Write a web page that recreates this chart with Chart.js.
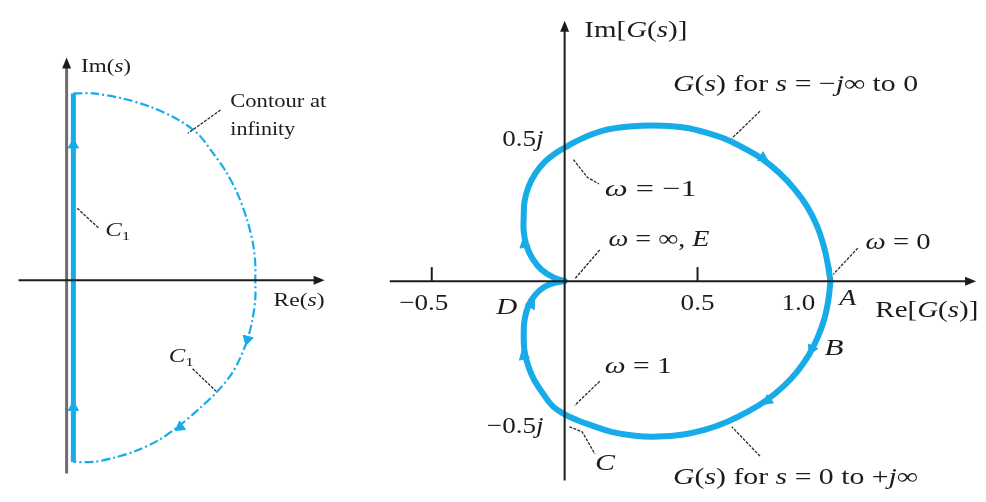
<!DOCTYPE html>
<html>
<head>
<meta charset="utf-8">
<script src="https://cdn.jsdelivr.net/npm/chart.js@4.4.1/dist/chart.umd.min.js"></script>
<style>
  html, body { margin: 0; padding: 0; background: #fff; }
  .panel { position: absolute; top: 0; }
  #sPanel { left: 0; width: 370px; height: 502px; }
  #gPanel { left: 370px; width: 616px; height: 502px; }
</style>
</head>
<body>
<div class="panel" id="sPanel"><canvas id="sPlane" width="370" height="502"></canvas></div>
<div class="panel" id="gPanel"><canvas id="gPlane" width="616" height="502"></canvas></div>
<script>
const BLUE = '#17abe8';
const INK = '#1c1c1c';
const SERIF = '"Liberation Serif", "DejaVu Serif", serif';
const STRETCH = 1.18;

// s-plane: contour C1 up the jw axis, then round the right half-plane
const c1Re = [0.037, 0.037];
const c1Im = [-0.984, 1.011];
const arcRe = [0.037, 0.147, 0.305, 0.463, 0.611, 0.716, 0.800, 0.874, 0.937, 0.989, 1.021, 1.032, 1.032,
               1.032, 1.016, 0.989, 0.947, 0.900, 0.816, 0.726, 0.621, 0.500, 0.374, 0.253, 0.147, 0.037];
const arcIm = [1.011, 1.011, 0.984, 0.937, 0.868, 0.795, 0.689, 0.584, 0.463, 0.321, 0.189, 0.084, 0,
               -0.100, -0.216, -0.321, -0.426, -0.511, -0.611, -0.695, -0.784, -0.868, -0.926, -0.963, -0.984, -0.984];
const sArrowRe = [0.037, 0.037, 0.989, 0.621];
const sArrowIm = [0.732, -0.689, -0.321, -0.795];

// G(s)-plane: s = -j inf .. 0 (upper) and s = 0 .. +j inf (lower)
const upperRe = [0, -0.044, -0.088, -0.121, -0.143, -0.154, -0.154, -0.151, -0.136, -0.110, -0.074, -0.033,
                 0.011, 0.066, 0.132, 0.206, 0.287, 0.368, 0.449, 0.529, 0.607, 0.680, 0.746, 0.809,
                 0.864, 0.912, 0.949, 0.974, 0.989, 1.0];
const upperIm = [0, 0.015, 0.044, 0.085, 0.132, 0.188, 0.246, 0.301, 0.357, 0.408, 0.452, 0.485,
                 0.511, 0.540, 0.566, 0.581, 0.588, 0.588, 0.581, 0.563, 0.537, 0.500, 0.460, 0.408,
                 0.349, 0.283, 0.210, 0.136, 0.070, 0];
const lowerRe = [1.0, 0.993, 0.978, 0.952, 0.919, 0.875, 0.824, 0.761, 0.691, 0.610, 0.526, 0.441,
                 0.353, 0.265, 0.176, 0.096, 0.048, 0, -0.044, -0.081, -0.114, -0.136, -0.151, -0.154,
                 -0.151, -0.136, -0.110, -0.077, -0.040, 0];
const lowerIm = [0, -0.066, -0.140, -0.213, -0.279, -0.342, -0.397, -0.449, -0.493, -0.533, -0.563, -0.581,
                 -0.588, -0.585, -0.570, -0.544, -0.526, -0.504, -0.474, -0.426, -0.375, -0.324, -0.265, -0.206,
                 -0.147, -0.092, -0.051, -0.022, -0.007, 0];
const gArrowRe = [-0.151, 0.746, 0.930, 0.765, -0.125, -0.154];
const gArrowIm = [0.140, 0.467, -0.257, -0.452, -0.088, -0.283];

const reTicks = [-0.5, 0.5, 1.0];
const reTickLabels = ['−0.5', '0.5', '1.0'];
const imTicks = [0.5, -0.5];
const imTickLabels = ['0.5*j*', '−0.5*j*'];

const zip = (xs, ys) => xs.map((x, i) => ({ x, y: ys[i] }));

// heading (deg, clockwise from up) of the path segment nearest to p
function headingAt(path, p) {
  let best = Infinity, ang = 0;
  for (let i = 0; i < path.length - 1; i++) {
    const a = path[i], b = path[i + 1];
    const dx = b.x - a.x, dy = b.y - a.y;
    const len2 = dx * dx + dy * dy || 1e-9;
    const t = Math.max(0, Math.min(1, ((p.x - a.x) * dx + (p.y - a.y) * dy) / len2));
    const ex = a.x + t * dx - p.x, ey = a.y + t * dy - p.y;
    const d = ex * ex + ey * ey;
    if (d < best) { best = d; ang = Math.atan2(dx, dy) * 180 / Math.PI; }
  }
  return ang;
}

// '*' toggles italic, '_x' puts x in subscript
function parseRich(spec) {
  const out = [];
  let italic = false, buf = '';
  for (let i = 0; i < spec.length; i++) {
    const ch = spec[i];
    if (ch === '*') { if (buf) out.push({ t: buf, italic }); buf = ''; italic = !italic; }
    else if (ch === '_') { if (buf) out.push({ t: buf, italic }); buf = ''; out.push({ t: spec[++i], italic: false, sub: true }); }
    else buf += ch;
  }
  if (buf) out.push({ t: buf, italic });
  return out;
}

function drawRich(ctx, spec, x, y, size, align, width) {
  const parts = parseRich(spec);
  const fontOf = p => `${p.italic ? 'italic ' : ''}${p.sub ? Math.round(size * 0.68) : size}px ${SERIF}`;
  let w = 0;
  parts.forEach(p => { ctx.font = fontOf(p); p.w = ctx.measureText(p.t).width; w += p.w; });
  const sx = width ? width / w : STRETCH;
  const full = w * sx;
  ctx.save();
  ctx.translate(align === 'right' ? x - full : align === 'center' ? x - full / 2 : x, y);
  ctx.scale(sx, 1);
  ctx.textBaseline = 'middle';
  ctx.textAlign = 'left';
  ctx.fillStyle = INK;
  let cx = 0;
  parts.forEach(p => { ctx.font = fontOf(p); ctx.fillText(p.t, cx, p.sub ? size * 0.3 : 0); cx += p.w; });
  ctx.restore();
}

function arrowHead(ctx, x, y, dir, color) {
  const L = 11, H = 4.5;
  ctx.fillStyle = color;
  ctx.beginPath();
  if (dir === 'right') { ctx.moveTo(x, y); ctx.lineTo(x - L, y - H); ctx.lineTo(x - L, y + H); }
  else { ctx.moveTo(x, y); ctx.lineTo(x - H, y + L); ctx.lineTo(x + H, y + L); }
  ctx.closePath();
  ctx.fill();
}

const planeAxes = {
  id: 'planeAxes',
  beforeDatasetsDraw(chart, args, o) {
    const ctx = chart.ctx, X = v => chart.scales.x.getPixelForValue(v), Y = v => chart.scales.y.getPixelForValue(v);
    ctx.save();
    ctx.strokeStyle = INK;
    ctx.lineWidth = 2;
    (o.reTicks || []).forEach(v => {
      ctx.beginPath(); ctx.moveTo(X(v), Y(0)); ctx.lineTo(X(v), Y(0) - 14); ctx.stroke();
    });
    ctx.restore();
  },
  afterDatasetsDraw(chart, args, o) {
    const ctx = chart.ctx, X = v => chart.scales.x.getPixelForValue(v), Y = v => chart.scales.y.getPixelForValue(v);
    ctx.save();
    // imaginary axis
    ctx.strokeStyle = o.imColor; ctx.lineWidth = o.imWidth;
    ctx.beginPath(); ctx.moveTo(X(0), Y(o.imRange[0])); ctx.lineTo(X(0), Y(o.imRange[1]) + 8); ctx.stroke();
    arrowHead(ctx, X(0), Y(o.imRange[1]), 'up', INK);
    // real axis
    ctx.strokeStyle = INK; ctx.lineWidth = 2;
    ctx.beginPath(); ctx.moveTo(X(o.reRange[0]), Y(0)); ctx.lineTo(X(o.reRange[1]) - 8, Y(0)); ctx.stroke();
    arrowHead(ctx, X(o.reRange[1]), Y(0), 'right', INK);

    // leader lines
    ctx.strokeStyle = '#2a2a2a'; ctx.lineWidth = 1.3; ctx.setLineDash([3, 1.3]);
    o.leaders.forEach(pts => {
      ctx.beginPath();
      pts.forEach(([x, y], i) => i ? ctx.lineTo(X(x), Y(y)) : ctx.moveTo(X(x), Y(y)));
      ctx.stroke();
    });
    ctx.setLineDash([]);

    // tick labels
    (o.reTicks || []).forEach((v, i) => drawRich(ctx, o.reTickLabels[i], X(v) + o.reLabelShift[i], Y(0) + 23, o.size, 'center'));
    (o.imTicks || []).forEach((v, i) => drawRich(ctx, o.imTickLabels[i], X(0) - 21, Y(v) + (v > 0 ? -9 : 14), o.size, 'right'));

    // notes
    o.notes.forEach(n => drawRich(ctx, n.text, X(n.x), Y(n.y), o.size, 'left', n.w));
    ctx.restore();
  }
};

function baseOptions(xr, yr, axes) {
  return {
    responsive: false,
    animation: false,
    events: [],
    layout: { padding: 0 },
    scales: {
      x: { type: 'linear', display: false, min: xr[0], max: xr[1] },
      y: { type: 'linear', display: false, min: yr[0], max: yr[1] }
    },
    plugins: { legend: { display: false }, tooltip: { enabled: false }, planeAxes: axes }
  };
}

// ---- left: s-plane contour
const contourPath = zip(c1Re, c1Im).concat(zip(arcRe, arcIm));
const sArrows = zip(sArrowRe, sArrowIm);
new Chart(document.getElementById('sPlane'), {
  type: 'scatter',
  data: {
    datasets: [
      { data: zip(c1Re, c1Im), showLine: true, borderColor: BLUE, borderWidth: 5, pointRadius: 0 },
      { data: zip(arcRe, arcIm), showLine: true, borderColor: BLUE, borderWidth: 2.2, borderDash: [9, 3, 2, 3],
        tension: 0.3, pointRadius: 0 },
      { data: sArrows, showLine: false, pointStyle: 'triangle', pointRadius: 6,
        pointRotation: sArrows.map(p => headingAt(contourPath, p)),
        pointBackgroundColor: BLUE, pointBorderColor: BLUE, pointBorderWidth: 1 }
    ]
  },
  options: baseOptions([-0.326, 1.621], [-1.163, 1.479], {
    size: 19,
    imColor: '#6e6e6e', imWidth: 3,
    reRange: [-0.263, 1.411], imRange: [-1.047, 1.205],
    leaders: [
      [[0.842, 0.921], [0.663, 0.795]],
      [[0.174, 0.284], [0.058, 0.389]],
      [[0.689, -0.479], [0.816, -0.600]]
    ],
    notes: [
      { text: 'Im(*s*)', x: 0.079, y: 1.153, w: 50 },
      { text: 'Contour at', x: 0.895, y: 0.963, w: 96 },
      { text: 'infinity', x: 0.895, y: 0.811, w: 65 },
      { text: '*C*_1', x: 0.211, y: 0.268, w: 25 },
      { text: 'Re(*s*)', x: 1.132, y: -0.111, w: 51 },
      { text: '*C*_1', x: 0.558, y: -0.416, w: 25 }
    ]
  }),
  plugins: [planeAxes]
});

// ---- right: Nyquist plot of G(s)
const nyquistPath = zip(upperRe, upperIm).concat(zip(lowerRe, lowerIm));
const gArrows = zip(gArrowRe, gArrowIm);
const curveStyle = { showLine: true, borderColor: BLUE, borderWidth: 6, tension: 0.4, pointRadius: 0,
                     borderCapStyle: 'round', borderJoinStyle: 'round' };
new Chart(document.getElementById('gPlane'), {
  type: 'scatter',
  data: {
    datasets: [
      Object.assign({ data: zip(upperRe, upperIm) }, curveStyle),
      Object.assign({ data: zip(lowerRe, lowerIm) }, curveStyle),
      { data: gArrows, showLine: false, pointStyle: 'triangle', pointRadius: 6,
        pointRotation: gArrows.map(p => headingAt(nyquistPath, p)),
        pointBackgroundColor: BLUE, pointBorderColor: BLUE, pointBorderWidth: 1 }
    ]
  },
  options: baseOptions([-0.706, 1.559], [-0.809, 1.037], {
    size: 23,
    imColor: INK, imWidth: 2,
    reRange: [-0.658, 1.548], imRange: [-0.754, 0.985],
    reTicks, reTickLabels, reLabelShift: [-8, 0, -32],
    imTicks, imTickLabels,
    leaders: [
      [[0.735, 0.643], [0.629, 0.540]],
      [[0.033, 0.460], [0.085, 0.393], [0.129, 0.368]],
      [[0.132, 0.118], [0.037, 0.007]],
      [[1.103, 0.125], [1.011, 0.026]],
      [[0.132, -0.379], [0.037, -0.471]],
      [[0.018, -0.551], [0.066, -0.570], [0.114, -0.654]],
      [[0.735, -0.662], [0.629, -0.551]]
    ],
    notes: [
      { text: 'Im[*G*(*s*)]', x: 0.074, y: 0.945, w: 103 },
      { text: '*G*(*s*) for *s* = −*j*∞ to 0', x: 0.408, y: 0.743, w: 245 },
      { text: '*ω* = −1', x: 0.151, y: 0.346, w: 92 },
      { text: '*ω* = ∞, *E*', x: 0.165, y: 0.154, w: 101 },
      { text: '*ω* = 0', x: 1.132, y: 0.143, w: 65 },
      { text: '*D*', x: -0.257, y: -0.103, w: 21 },
      { text: '*A*', x: 1.033, y: -0.066, w: 17 },
      { text: 'Re[*G*(*s*)]', x: 1.169, y: -0.114, w: 103 },
      { text: '*B*', x: 0.978, y: -0.257, w: 19 },
      { text: '*ω* = 1', x: 0.151, y: -0.324, w: 67 },
      { text: '*C*', x: 0.114, y: -0.691, w: 20 },
      { text: '*G*(*s*) for *s* = 0 to +*j*∞', x: 0.408, y: -0.746, w: 245 }
    ]
  }),
  plugins: [planeAxes]
});
</script>
</body>
</html>
